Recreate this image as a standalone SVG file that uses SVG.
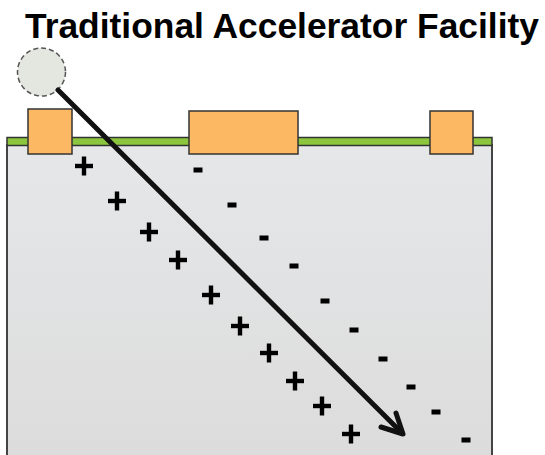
<svg xmlns="http://www.w3.org/2000/svg" width="545" height="455" viewBox="0 0 545 455">
<defs>
<linearGradient id="bg" x1="0" y1="0" x2="0" y2="1">
<stop offset="0" stop-color="#e6e7e9"/>
<stop offset="1" stop-color="#dcdcdc"/>
</linearGradient>
<g id="plus"><rect x="-9" y="-2.2" width="18" height="4.4"/><rect x="-2.2" y="-9.5" width="4.4" height="19"/></g>
<rect id="minus" x="-4.5" y="-2.5" width="9" height="5"/>
</defs>
<style>
.title{font-family:"Liberation Sans",Arial,sans-serif;font-weight:bold;font-size:35px;fill:#000}
.pad{fill:#fdb863;stroke:#333;stroke-width:1.5}
.chg{fill:#000}
.beam{fill:none;stroke:#111;stroke-width:5;stroke-linecap:round;stroke-linejoin:round}
</style>
<rect width="545" height="455" fill="#fff"/>
<text class="title" x="25" y="38" textLength="514" lengthAdjust="spacingAndGlyphs">Traditional Accelerator Facility</text>
<g id="substrate">
<rect x="7" y="145" width="485" height="315" fill="url(#bg)" stroke="#444" stroke-width="2"/>
<rect x="7" y="137.5" width="485" height="8" fill="#8cc63f" stroke="#333" stroke-width="1.5"/>
</g>
<g id="pad-left"><rect class="pad" x="28" y="109" width="44" height="45"/></g>
<g id="pad-middle"><rect class="pad" x="189" y="111" width="109" height="43"/></g>
<g id="pad-right"><rect class="pad" x="430" y="111" width="43" height="43"/></g>
<g id="source"><circle cx="41.5" cy="72" r="24" fill="#e4e6e0" stroke="#555" stroke-width="1.5" stroke-dasharray="5,3"/></g>
<g id="charges-plus" class="chg">
<use href="#plus" x="84" y="166"/>
<use href="#plus" x="117" y="201"/>
<use href="#plus" x="149" y="232"/>
<use href="#plus" x="178" y="260"/>
<use href="#plus" x="211" y="295"/>
<use href="#plus" x="240" y="326"/>
<use href="#plus" x="269" y="353"/>
<use href="#plus" x="295" y="381"/>
<use href="#plus" x="322" y="406"/>
<use href="#plus" x="351" y="434"/>
</g>
<g id="charges-minus" class="chg">
<use href="#minus" x="198" y="170"/>
<use href="#minus" x="232" y="205"/>
<use href="#minus" x="264" y="238"/>
<use href="#minus" x="294" y="266"/>
<use href="#minus" x="325" y="301"/>
<use href="#minus" x="354" y="330"/>
<use href="#minus" x="383" y="359"/>
<use href="#minus" x="411" y="387"/>
<use href="#minus" x="436" y="412"/>
<use href="#minus" x="466" y="440"/>
</g>
<g id="connectors">
<path class="beam" d="M58,90 L402,433"/>
<path class="beam" d="M396,413 L403,434 L381,427"/>
</g>
</svg>
